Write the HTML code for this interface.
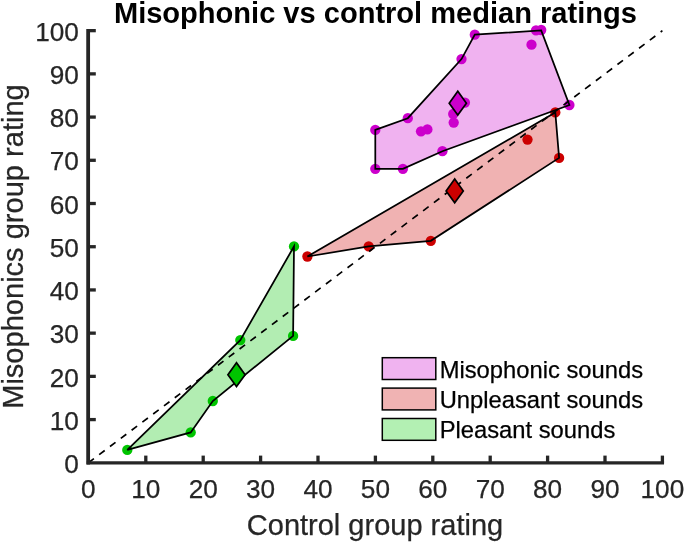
<!DOCTYPE html>
<html lang="en">
<head>
<meta charset="utf-8">
<title>Misophonic vs control median ratings</title>
<style>
html,body{margin:0;padding:0;background:#fff;}
body{width:685px;height:544px;overflow:hidden;position:relative;font-family:"Liberation Sans",Arial,Helvetica,sans-serif;}
</style>
</head>
<body>
<svg width="685" height="544" viewBox="0 0 685 544" style="display:block;position:absolute;left:0;top:0">
<rect width="685" height="544" fill="#fff"/>
<polygon points="307.4,256.5 555.3,112.4 559.1,157.9 430.8,240.8 368.7,246.4" fill="#cc0000" fill-opacity="0.3" stroke="none"/>
<polygon points="127.3,449.9 190.7,432.4 212.8,401.0 293.1,335.9 294.0,246.4 240.3,340.1" fill="#00c400" fill-opacity="0.3" stroke="none"/>
<polygon points="375.3,129.9 407.8,118.2 461.5,59.1 474.8,34.7 541.2,30.4 569.4,105.0 442.4,151.2 402.9,168.8 375.3,168.8" fill="#cc00cc" fill-opacity="0.3" stroke="none"/>
<circle cx="307.4" cy="256.5" r="5.15" fill="#cc0000"/><circle cx="368.7" cy="246.4" r="5.15" fill="#cc0000"/><circle cx="430.8" cy="240.8" r="5.15" fill="#cc0000"/><circle cx="527.5" cy="139.6" r="5.15" fill="#cc0000"/><circle cx="555.3" cy="112.4" r="5.15" fill="#cc0000"/><circle cx="559.1" cy="157.9" r="5.15" fill="#cc0000"/>
<circle cx="127.3" cy="449.9" r="5.15" fill="#00c400"/><circle cx="190.7" cy="432.4" r="5.15" fill="#00c400"/><circle cx="212.8" cy="401.0" r="5.15" fill="#00c400"/><circle cx="240.3" cy="340.1" r="5.15" fill="#00c400"/><circle cx="293.1" cy="335.9" r="5.15" fill="#00c400"/><circle cx="294.0" cy="246.4" r="5.15" fill="#00c400"/>
<circle cx="375.3" cy="129.9" r="5.15" fill="#cc00cc"/><circle cx="375.3" cy="168.8" r="5.15" fill="#cc00cc"/><circle cx="402.9" cy="168.8" r="5.15" fill="#cc00cc"/><circle cx="407.8" cy="118.2" r="5.15" fill="#cc00cc"/><circle cx="421.0" cy="131.3" r="5.15" fill="#cc00cc"/><circle cx="427.4" cy="129.4" r="5.15" fill="#cc00cc"/><circle cx="442.4" cy="151.2" r="5.15" fill="#cc00cc"/><circle cx="453.7" cy="122.6" r="5.15" fill="#cc00cc"/><circle cx="453.2" cy="114.0" r="5.15" fill="#cc00cc"/><circle cx="464.9" cy="102.6" r="5.15" fill="#cc00cc"/><circle cx="461.5" cy="59.1" r="5.15" fill="#cc00cc"/><circle cx="474.8" cy="34.7" r="5.15" fill="#cc00cc"/><circle cx="536.0" cy="30.3" r="5.15" fill="#cc00cc"/><circle cx="541.2" cy="30.0" r="5.15" fill="#cc00cc"/><circle cx="531.5" cy="44.7" r="5.15" fill="#cc00cc"/><circle cx="569.4" cy="105.0" r="5.15" fill="#cc00cc"/>
<line x1="88.4" y1="462.8" x2="662.4" y2="30.65" stroke="#000" stroke-width="1.7" stroke-dasharray="6.9 6.615"/>
<polygon points="307.4,256.5 555.3,112.4 559.1,157.9 430.8,240.8 368.7,246.4" fill="none" stroke="#000" stroke-width="1.75" stroke-linejoin="miter"/>
<polygon points="127.3,449.9 190.7,432.4 212.8,401.0 293.1,335.9 294.0,246.4 240.3,340.1" fill="none" stroke="#000" stroke-width="1.75" stroke-linejoin="miter"/>
<polygon points="375.3,129.9 407.8,118.2 461.5,59.1 474.8,34.7 541.2,30.4 569.4,105.0 442.4,151.2 402.9,168.8 375.3,168.8" fill="none" stroke="#000" stroke-width="1.75" stroke-linejoin="miter"/>
<polygon points="446.1,190.9 454.7,179.0 463.3,190.9 454.7,202.8" fill="#cc0000" stroke="#000" stroke-width="1.7" stroke-linejoin="miter"/>
<polygon points="227.9,374.7 236.5,362.8 245.1,374.7 236.5,386.6" fill="#00c400" stroke="#000" stroke-width="1.7" stroke-linejoin="miter"/>
<polygon points="449.2,103.2 457.8,91.3 466.4,103.2 457.8,115.1" fill="#cc00cc" stroke="#000" stroke-width="1.7" stroke-linejoin="miter"/>
<g stroke="#262626" stroke-width="3.3" fill="none" stroke-linecap="butt">
<path d="M88.15,29.0 V464.45" stroke-width="3.8"/>
<path d="M86.75,462.8 H664.05"/>
<path d="M145.80,462.8 V455.6"/>
<path d="M88.4,419.59 H95.80000000000001"/>
<path d="M203.20,462.8 V455.6"/>
<path d="M88.4,376.37 H95.80000000000001"/>
<path d="M260.60,462.8 V455.6"/>
<path d="M88.4,333.15 H95.80000000000001"/>
<path d="M318.00,462.8 V455.6"/>
<path d="M88.4,289.94 H95.80000000000001"/>
<path d="M375.40,462.8 V455.6"/>
<path d="M88.4,246.73 H95.80000000000001"/>
<path d="M432.80,462.8 V455.6"/>
<path d="M88.4,203.51 H95.80000000000001"/>
<path d="M490.20,462.8 V455.6"/>
<path d="M88.4,160.29 H95.80000000000001"/>
<path d="M547.60,462.8 V455.6"/>
<path d="M88.4,117.08 H95.80000000000001"/>
<path d="M605.00,462.8 V455.6"/>
<path d="M88.4,73.87 H95.80000000000001"/>
<path d="M662.40,462.8 V455.6"/>
<path d="M88.4,30.65 H95.80000000000001"/>
</g>
<g font-family="'Liberation Sans', Arial, Helvetica, sans-serif" font-size="26.2" fill="#262626" stroke="#262626" stroke-width="0.25">
<text transform="translate(88.4,498.4)" text-anchor="middle">0</text>
<text transform="translate(78.9,472.9)" text-anchor="end">0</text>
<text transform="translate(145.8,498.4)" text-anchor="middle">10</text>
<text transform="translate(78.9,429.7)" text-anchor="end">10</text>
<text transform="translate(203.2,498.4)" text-anchor="middle">20</text>
<text transform="translate(78.9,386.5)" text-anchor="end">20</text>
<text transform="translate(260.6,498.4)" text-anchor="middle">30</text>
<text transform="translate(78.9,343.3)" text-anchor="end">30</text>
<text transform="translate(318.0,498.4)" text-anchor="middle">40</text>
<text transform="translate(78.9,300.0)" text-anchor="end">40</text>
<text transform="translate(375.4,498.4)" text-anchor="middle">50</text>
<text transform="translate(78.9,256.8)" text-anchor="end">50</text>
<text transform="translate(432.8,498.4)" text-anchor="middle">60</text>
<text transform="translate(78.9,213.6)" text-anchor="end">60</text>
<text transform="translate(490.2,498.4)" text-anchor="middle">70</text>
<text transform="translate(78.9,170.4)" text-anchor="end">70</text>
<text transform="translate(547.6,498.4)" text-anchor="middle">80</text>
<text transform="translate(78.9,127.2)" text-anchor="end">80</text>
<text transform="translate(605.0,498.4)" text-anchor="middle">90</text>
<text transform="translate(78.9,84.0)" text-anchor="end">90</text>
<text transform="translate(662.4,498.4)" text-anchor="middle">100</text>
<text transform="translate(78.9,40.8)" text-anchor="end">100</text>
</g>
<text x="375.0" y="535.3" text-anchor="middle" font-family="'Liberation Sans', Arial, Helvetica, sans-serif" font-size="29" fill="#262626" stroke="#262626" stroke-width="0.25">Control group rating</text>
<text transform="translate(23.3,246.55) rotate(-90)" text-anchor="middle" font-family="'Liberation Sans', Arial, Helvetica, sans-serif" font-size="29.05" fill="#262626" stroke="#262626" stroke-width="0.25">Misophonics group rating</text>
<text x="375.4" y="23" text-anchor="middle" font-family="'Liberation Sans', Arial, Helvetica, sans-serif" font-size="29.05" font-weight="bold" fill="#000">Misophonic vs control median ratings</text>
<rect x="382.3" y="357.7" width="53.5" height="21.8" fill="#f0b3f0" stroke="#000" stroke-width="1.5"/>
<text x="439.7" y="377.5" font-family="'Liberation Sans', Arial, Helvetica, sans-serif" font-size="23.75" fill="#000" stroke="#000" stroke-width="0.25">Misophonic sounds</text>
<rect x="382.3" y="388.1" width="53.5" height="21.8" fill="#f0b3b3" stroke="#000" stroke-width="1.5"/>
<text x="439.7" y="407.9" font-family="'Liberation Sans', Arial, Helvetica, sans-serif" font-size="23.75" fill="#000" stroke="#000" stroke-width="0.25">Unpleasant sounds</text>
<rect x="382.3" y="418.5" width="53.5" height="21.8" fill="#b3f0b3" stroke="#000" stroke-width="1.5"/>
<text x="439.7" y="438.3" font-family="'Liberation Sans', Arial, Helvetica, sans-serif" font-size="23.75" fill="#000" stroke="#000" stroke-width="0.25">Pleasant sounds</text>
</svg>
</body>
</html>
